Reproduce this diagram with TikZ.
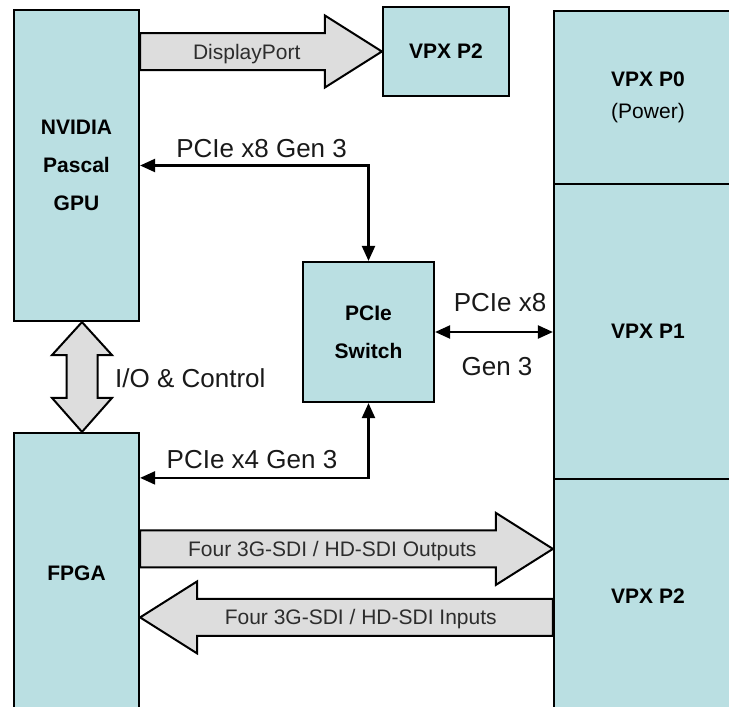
\documentclass[tikz,border=0pt]{standalone}
\usepackage{fontspec}
\setmainfont{Liberation Sans}
\usetikzlibrary{arrows.meta,calc}
\definecolor{boxblue}{RGB}{186,223,226}
\definecolor{fatgray}{RGB}{221,221,221}
\definecolor{fattxt}{RGB}{45,45,45}
% wide horizontal arrow: tail, tip, head length (signed), text
\newcommand{\fatarrow}[4]{%
	\filldraw[fat] ($(#1)+(0,-18.5)$) -- ($(#2)+(#3,-18.5)$) -- ($(#2)+(#3,-36)$) -- (#2)
		-- ($(#2)+(#3,36)$) -- ($(#2)+(#3,18.5)$) -- ($(#1)+(0,18.5)$) -- cycle;
	\node[fattext] at ($(#1)!.5!(#2)+(#3/4,0)$) {#4};}

\begin{document}
\begin{tikzpicture}[x=1pt,y=-1pt,
		box/.style={draw,line width=2.2pt,fill=boxblue,inner sep=0pt,align=center,
			font=\bfseries\fontsize{21}{38}\selectfont},
		link/.style={line width=2.2pt,{Triangle[length=15pt,width=13pt]}-{Triangle[length=15pt,width=13pt]}},
		fat/.style={line width=2pt,fill=fatgray,line join=miter},
		fattext/.style={anchor=base,yshift=-7.5pt,inner sep=0pt,text=fattxt,font=\fontsize{21}{24}\selectfont},
		lbl/.style={inner sep=0pt,text=black!90,font=\fontsize{26}{30}\selectfont}]
		\useasboundingbox (0,0) rectangle (729,707);
		% boxes
		\node[box,minimum width=125pt,minimum height=311pt] (gpu) at (76.5,165.5) {NVIDIA\\Pascal\\GPU};
		\node[box,minimum width=125pt,minimum height=280pt] (fpga) at (76.5,573) {FPGA};
		\node[box,minimum width=126pt,minimum height=89pt] (dpport) at (446,51.5) {VPX P2};
		\node[box,minimum width=131pt,minimum height=140pt] (sw) at (368.5,332) {PCIe\\Switch};
		\node[box,minimum width=188pt,minimum height=173pt] (pzero) at (648,97.5) {VPX P0\\[-6pt]{\mdseries (Power)}};
		\node[box,minimum width=188pt,minimum height=295pt] (pone) at (648,331.5) {VPX P1};
		\node[box,minimum width=188pt,minimum height=234pt] (ptwo) at (648,596) {VPX P2};
		% thin links
		\draw[link] (gpu.east) -| node[lbl,pos=.266,anchor=base,yshift=8pt] {PCIe x8 Gen 3} (sw.north);
		\draw[link] ([yshift=-46pt]fpga.north east) -| node[lbl,pos=.245,anchor=base,yshift=9pt] {PCIe x4 Gen 3} (sw.south);
		\draw[link] (sw.east) -- (sw.east -| pone.west)
			node[lbl,midway,anchor=base,xshift=6pt,yshift=21pt] {PCIe x8}
			node[lbl,midway,anchor=base,xshift=3pt,yshift=-43pt] {Gen 3};
		% wide arrows
		\coordinate (dptail) at (gpu.east |- dpport.west);
		\fatarrow{dptail}{dpport.west}{-57}{DisplayPort}
		\coordinate (outtip) at ([yshift=-71pt]ptwo.north west);
		\coordinate (outtail) at (fpga.east |- outtip);
		\fatarrow{outtail}{outtip}{-57}{Four 3G-SDI / HD-SDI Outputs}
		\coordinate (intail) at ([yshift=-139.5pt]ptwo.north west);
		\coordinate (intip) at (fpga.east |- intail);
		\fatarrow{intail}{intip}{57}{Four 3G-SDI / HD-SDI Inputs}
		% I/O double arrow
		\coordinate (iotop) at ([xshift=5.5pt]gpu.south);
		\coordinate (iobot) at ([xshift=5.5pt]fpga.north);
		\filldraw[fat] (iotop) -- ($(iotop)+(30,33)$) -- ($(iotop)+(15.5,33)$) -- ($(iobot)+(15.5,-34)$)
			-- ($(iobot)+(30,-34)$) -- (iobot) -- ($(iobot)+(-30,-34)$) -- ($(iobot)+(-15.5,-34)$)
			-- ($(iotop)+(-15.5,33)$) -- ($(iotop)+(-30,33)$) -- cycle;
		\node[lbl,anchor=base west] (iolbl) at ($(iotop)!.5!(iobot)+(33,10)$) {I/O \& Control};
	\end{tikzpicture}
\end{document}
